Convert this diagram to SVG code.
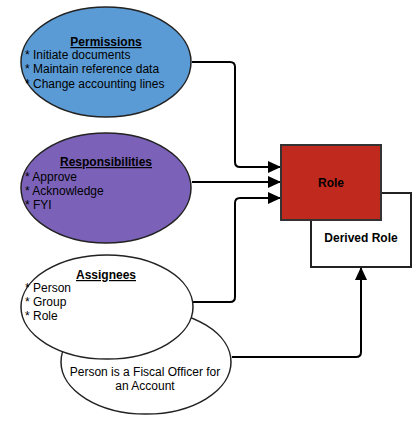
<svg xmlns="http://www.w3.org/2000/svg" width="420" height="421" viewBox="0 0 420 421">
<defs>
<marker id="arr" markerWidth="13" markerHeight="12" refX="13" refY="6" orient="auto" markerUnits="userSpaceOnUse">
<path d="M0,0 L13,6 L0,12 Z" fill="#000"/>
</marker>
<style>
.el{stroke:#222;stroke-width:1.5}
.t{font-family:"Liberation Sans",Arial,sans-serif;font-size:12px;fill:#000}
.h{font-weight:bold;text-decoration:underline;text-anchor:middle}
.b{font-weight:bold;text-anchor:middle}
.c{fill:none;stroke:#000;stroke-width:2}
</style>
</defs>
<rect width="420" height="421" fill="#fff"/>
<g id="connectors">
<path class="c" d="M192,62 H230 Q235,62 235,67 V162 Q235,167 240,167 H281" marker-end="url(#arr)"/>
<path class="c" d="M192,182 H281" marker-end="url(#arr)"/>
<path class="c" d="M193,302 H230 Q235,302 235,297 V203 Q235,198 240,198 H281" marker-end="url(#arr)"/>
<path class="c" d="M232,357 H356 Q361,357 361,352 V267" marker-end="url(#arr)"/>
</g>
<g id="derived-role">
<rect x="311" y="193" width="100" height="74" fill="#fff" stroke="#222" stroke-width="2"/>
<text class="t b" x="361" y="242">Derived Role</text>
</g>
<g id="role">
<rect x="281" y="145" width="100" height="75" fill="#c0291e" stroke="#333" stroke-width="2"/>
<text class="t b" x="331" y="187">Role</text>
</g>
<g id="permissions">
<ellipse class="el" cx="106" cy="62" rx="85" ry="55" fill="#5b9bd5"/>
<text class="t h" x="106" y="46">Permissions</text>
<text class="t" x="25" y="59">* Initiate documents</text>
<text class="t" x="25" y="73">* Maintain reference data</text>
<text class="t" x="25" y="88">* Change accounting lines</text>
</g>
<g id="responsibilities">
<ellipse class="el" cx="106" cy="188" rx="85" ry="55" fill="#7b62b8"/>
<text class="t h" x="106" y="166">Responsibilities</text>
<text class="t" x="25" y="181">* Approve</text>
<text class="t" x="25" y="195">* Acknowledge</text>
<text class="t" x="25" y="209">* FYI</text>
</g>
<g id="fiscal-officer">
<ellipse class="el" cx="146" cy="362" rx="85" ry="52" fill="#fff"/>
<text class="t" x="145" y="376" text-anchor="middle">Person is a Fiscal Officer for</text>
<text class="t" x="145" y="390" text-anchor="middle">an Account</text>
</g>
<g id="assignees">
<ellipse class="el" cx="107" cy="307" rx="86" ry="52" fill="#fff"/>
<text class="t h" x="106" y="279">Assignees</text>
<text class="t" x="25" y="292">* Person</text>
<text class="t" x="25" y="306">* Group</text>
<text class="t" x="25" y="320">* Role</text>
</g>
</svg>
